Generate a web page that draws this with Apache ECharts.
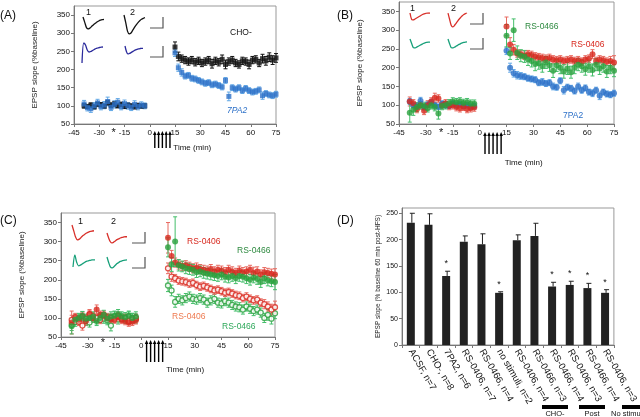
<!DOCTYPE html>
<html>
<head>
<meta charset="utf-8">
<script src="https://cdn.jsdelivr.net/npm/echarts@6/dist/echarts.min.js"></script>
<style>
  html, body { margin: 0; padding: 0; background: #fff; }
  #wrap { position: relative; width: 640px; height: 417px; }
  .layer { position: absolute; left: 0; top: 0; width: 640px; height: 417px; }
</style>
</head>
<body>
<div id="wrap">
  <div id="main" class="layer"></div>
  <div id="bars" class="layer"></div>
  <div id="over" class="layer"></div>
</div>
<script>
// time points (min) for the LTP panels: baseline then post-HFS
const tPts = [-39,-37,-35,-33,-31,-29,-27,-25,-23,-21,-19,-17,-15,-13,-11,-9,-7,-5,-3,
  15,17,19,21,23,25,27,29,31,33,35,37,39,41,43,45,47,49,51,53,55,57,59,61,63,65,67,69,71,73,75];

// (A) CHO- vs 7PA2
const aCho = [100,98,102,97,104,103,99,108,102,105,100,104,98,102,100,97,101,99,100,
  262,236,230,226,222,226,220,224,218,222,226,216,224,220,228,214,222,226,218,214,224,222,214,226,228,218,230,224,234,226,232];
const aChoErr = [6,5,6,5,6,6,5,7,6,6,5,6,5,6,5,5,6,5,5,
  14,12,10,10,10,10,10,10,10,10,10,12,10,10,12,12,10,10,10,10,10,10,12,10,10,10,12,12,12,12,12];
const a7pa2 = [105,95,92,100,108,98,102,112,96,104,110,98,106,100,96,104,98,102,100,
  246,205,192,182,184,176,174,170,166,162,164,158,160,156,152,170,126,150,146,150,142,148,142,138,140,144,128,134,130,128,132];
const a7pa2Err = [10,9,10,9,10,9,10,12,9,10,10,9,10,9,9,10,9,9,8,
  10,10,10,8,8,8,8,8,8,8,8,8,8,8,8,8,12,8,8,8,8,8,8,8,8,8,10,8,8,8,8];

// (B) 7PA2, RS-0406, RS-0466
const bBlue = [110,100,98,112,95,102,108,100,96,104,100,98,104,100,102,98,100,96,98,
  245,200,185,180,178,176,172,170,168,160,162,158,160,150,148,165,140,148,145,138,150,140,146,135,132,140,125,135,130,128,132];
const bBlueErr = [8,7,8,9,8,7,8,8,7,8,8,7,8,8,7,8,8,7,8,
  10,12,10,10,9,8,8,8,8,8,9,8,8,9,8,8,10,8,8,8,9,8,8,8,9,8,10,8,8,8,8];
const bRed = [110,105,90,100,85,100,110,120,118,100,105,98,100,95,92,96,90,92,94,
  310,262,248,238,236,232,236,234,230,228,226,224,226,222,220,222,218,220,222,218,220,216,222,224,236,218,222,220,216,218,214];
const bRedErr = [12,10,10,10,10,12,10,12,10,10,10,10,10,10,10,10,10,10,10,
  25,18,14,10,10,10,10,10,10,10,10,10,10,10,10,10,10,10,10,10,10,10,10,10,12,10,10,10,10,12,18];
const bGreen = [80,88,95,100,98,92,100,95,78,98,100,105,110,108,110,106,108,104,104,
  285,238,300,240,232,230,222,218,210,212,204,214,206,192,206,200,190,198,188,200,208,204,196,204,194,208,198,204,190,200,192];
const bGreenErr = [25,15,12,10,10,10,10,10,15,10,10,10,10,10,10,10,10,10,10,
  30,16,30,18,16,16,16,16,18,16,16,16,16,18,16,16,18,16,16,16,16,16,16,16,16,16,16,16,16,16,16];

// (C) RS-0406 / RS-0466, filled and open
const cRed = [88,100,95,105,92,110,100,122,108,105,100,95,98,102,95,92,88,90,94,
  310,262,245,240,236,238,234,230,232,228,226,224,228,222,226,224,220,226,222,218,224,220,222,226,218,222,214,220,218,216,214];
const cRedErr = [30,10,10,10,10,12,10,12,10,10,10,10,10,10,10,10,10,10,10,
  40,15,12,12,12,12,12,12,12,12,12,12,12,12,12,12,12,12,12,12,12,12,12,12,15,12,12,12,12,12,15];
const cGreen = [78,95,100,105,98,100,104,92,100,108,98,104,106,110,104,102,106,100,104,
  285,240,300,238,235,230,228,226,220,222,218,216,214,212,210,214,208,206,210,204,210,208,204,200,206,202,194,204,198,196,194];
const cGreenErr = [20,12,12,12,12,12,12,12,12,12,12,12,12,12,12,12,12,12,12,
  25,18,65,15,14,14,14,14,14,14,14,14,14,14,14,14,14,14,14,14,14,14,14,14,14,14,14,14,14,14,20];
const cRedOpen = [95,102,90,80,98,110,104,100,95,108,102,100,96,105,98,100,92,96,100,
  230,208,204,198,196,194,190,192,186,182,184,180,176,172,174,170,166,168,164,160,158,152,156,150,146,148,140,136,130,122,128];
const cRedOpenErr = [12,10,10,12,10,10,10,10,10,10,10,10,10,10,10,10,10,10,10,
  14,12,10,10,10,10,10,10,10,10,10,10,10,10,10,10,10,10,10,10,10,10,10,10,10,10,10,12,12,14,16];
const cGreenOpen = [82,90,98,104,92,88,100,96,102,98,94,80,104,96,100,98,104,100,98,
  185,172,142,150,146,152,156,150,148,152,148,140,146,150,140,138,144,140,134,130,128,122,130,124,118,122,114,100,108,98,112];
const cGreenOpenErr = [15,12,12,12,12,12,12,12,12,12,12,14,12,12,12,12,12,12,12,
  16,14,14,12,12,12,12,12,12,12,12,12,12,12,12,12,12,12,12,12,12,12,12,12,12,12,12,12,14,14,14];

// HFS trains (min) and drug marker time
const stimTimes = [3, 5.25, 7.5, 9.75, 12];
const drugTime = -21.5;

// example EPSP traces (insets)
const wA1 = [0.9,0.1,-0.7,-0.9,-0.75,-0.5,-0.25,-0.05,0.15,0.3,0.42,0.5,0.55];
const wA2 = [1.0,0.2,-0.7,-1.0,-0.9,-0.6,-0.3,-0.05,0.2,0.4,0.55,0.65,0.72];
const wA3 = [-1.6,0.4,0.2,-0.3,-0.5,-0.45,-0.35,-0.25,-0.15,-0.1,-0.05,-0.02,0.0];
const wA4 = [0.3,-0.3,-0.55,-0.5,-0.4,-0.3,-0.2,-0.12,-0.05,0,0.03,0.05,0.05];
const wB1 = [0.3,-0.35,-0.4,-0.3,-0.2,-0.1,0,0.1,0.18,0.24,0.28,0.3,0.3];
const wB2 = [0.7,0.0,-0.7,-0.9,-0.75,-0.5,-0.25,0.0,0.2,0.4,0.55,0.65,0.72];
const wB3 = [0.5,0.0,-0.45,-0.5,-0.4,-0.3,-0.2,-0.1,0.0,0.08,0.12,0.15,0.16];
const wB4 = [0.45,-0.05,-0.45,-0.5,-0.42,-0.32,-0.22,-0.12,-0.03,0.05,0.1,0.13,0.15];
const wC1 = [0.8,0.1,-0.6,-0.9,-0.8,-0.6,-0.4,-0.25,-0.1,0.0,0.08,0.12,0.15];
const wC2 = [0.4,-0.2,-0.65,-0.8,-0.7,-0.55,-0.4,-0.3,-0.2,-0.12,-0.08,-0.05,-0.05];
const wC3 = [-0.6,0.4,-0.2,-0.5,-0.45,-0.35,-0.25,-0.15,-0.1,-0.05,-0.02,0,0];
const wC4 = [0.3,-0.2,-0.6,-0.7,-0.6,-0.45,-0.3,-0.2,-0.1,-0.05,0,0.02,0.03];

// (D) summary bars
const dCats = ['ACSF, n=7','CHO-, n=8','7PA2, n=6','RS-0406, n=7','RS-0466, n=4','no stimuli, n=2',
  'RS-0406, n=4','RS-0466, n=3','RS-0466, n=4','RS-0406, n=3','RS-0466, n=4','RS-0406, n=3'];
const dVals = [232,228,131,196,191,99,199,207,111,114,108,99];
const dErr = [18,21,9,11,20,2,10,24,8,7,9,6];
const dSig = [0,0,1,0,0,1,0,0,1,1,1,1];

const FONT = '"Liberation Sans", Arial, sans-serif';
const BLUE = '#2c70c8', BLUE_ERR = '#62a8e6';
const RED = '#d8281e', RED_ERR = '#e86a60';
const GREEN = '#28a03c', GREEN_ERR = '#44be6a';
const AX = '#777';

const mainChart = echarts.init(document.getElementById('main'));
const barChart = echarts.init(document.getElementById('bars'));
const overChart = echarts.init(document.getElementById('over'));

// ---- panels A, B, C ----
const ltpGrids = [
  { left: 74, top: 6, width: 202, height: 118 },
  { left: 399, top: 2, width: 215, height: 122 },
  { left: 61, top: 213, width: 214, height: 124 }
];

function errRender(color) {
  return function (params, api) {
    const x = api.value(0);
    const lo = api.coord([x, api.value(1)]);
    const hi = api.coord([x, api.value(2)]);
    const c = 2;
    const style = { stroke: color, lineWidth: 1 };
    return {
      type: 'group', children: [
        { type: 'line', shape: { x1: lo[0], y1: lo[1], x2: hi[0], y2: hi[1] }, style },
        { type: 'line', shape: { x1: hi[0] - c, y1: hi[1], x2: hi[0] + c, y2: hi[1] }, style },
        { type: 'line', shape: { x1: lo[0] - c, y1: lo[1], x2: lo[0] + c, y2: lo[1] }, style }
      ]
    };
  };
}

function ltp(gi, vals, errs, o) {
  return [
    {
      type: 'custom', xAxisIndex: gi, yAxisIndex: gi, silent: true,
      data: tPts.map((t, i) => [t, vals[i] - errs[i], vals[i] + errs[i]]),
      encode: { x: 0, y: [1, 2] },
      renderItem: errRender(o.err)
    },
    {
      type: 'scatter', xAxisIndex: gi, yAxisIndex: gi, silent: true,
      data: tPts.map((t, i) => [t, vals[i]]),
      symbol: o.symbol, symbolSize: o.size,
      itemStyle: { color: o.fill, borderColor: o.stroke || o.fill, borderWidth: o.bw || 0 }
    }
  ];
}

mainChart.setOption({
  animation: false,
  backgroundColor: '#fff',
  textStyle: { fontFamily: FONT },
  grid: ltpGrids.map(g => Object.assign({ show: true, borderColor: '#999', borderWidth: 1 }, g)),
  xAxis: [0, 1, 2].map(i => ({
    type: 'value', gridIndex: i, min: -45, max: 75, interval: 15,
    axisLine: { show: true, onZero: false, lineStyle: { color: AX } },
    axisTick: { show: true, length: 3, lineStyle: { color: AX } },
    axisLabel: { margin: 5, fontSize: 8, color: '#111', fontFamily: FONT },
    splitLine: { show: false }, minorTick: { show: false }, minorSplitLine: { show: false }
  })),
  yAxis: [0, 1, 2].map(i => ({
    type: 'value', gridIndex: i, min: 50, max: 375, interval: 50,
    name: 'EPSP slope (%baseline)', nameLocation: 'middle', nameGap: 35,
    nameTextStyle: { fontSize: 8, color: '#222', fontFamily: FONT },
    axisLine: { show: true, onZero: false, lineStyle: { color: AX } },
    axisTick: { show: true, length: 3, lineStyle: { color: AX } },
    axisLabel: { margin: 4, showMaxLabel: false, fontSize: 8, color: '#111', fontFamily: FONT },
    splitLine: { show: false }, minorTick: { show: false }, minorSplitLine: { show: false }
  })),
  series: [].concat(
    ltp(0, aCho, aChoErr, { err: '#111', fill: '#111', symbol: 'rect', size: 5 }),
    ltp(0, a7pa2, a7pa2Err, { err: BLUE_ERR, fill: BLUE, symbol: 'rect', size: 5 }),
    ltp(1, bBlue, bBlueErr, { err: BLUE_ERR, fill: BLUE, symbol: 'circle', size: 6 }),
    ltp(1, bRed, bRedErr, { err: RED_ERR, fill: RED, symbol: 'circle', size: 6 }),
    ltp(1, bGreen, bGreenErr, { err: GREEN_ERR, fill: GREEN, symbol: 'circle', size: 6 }),
    ltp(2, cGreenOpen, cGreenOpenErr, { err: GREEN_ERR, fill: '#fff', stroke: GREEN, bw: 1.3, symbol: 'circle', size: 5 }),
    ltp(2, cRedOpen, cRedOpenErr, { err: RED_ERR, fill: '#fff', stroke: RED, bw: 1.3, symbol: 'circle', size: 5 }),
    ltp(2, cRed, cRedErr, { err: RED_ERR, fill: RED, symbol: 'circle', size: 6 }),
    ltp(2, cGreen, cGreenErr, { err: GREEN_ERR, fill: GREEN, symbol: 'circle', size: 6 })
  )
});

// ---- panel D ----
barChart.setOption({
  animation: false,
  textStyle: { fontFamily: FONT },
  grid: { left: 402, top: 208, width: 220, height: 137, show: true, borderColor: '#999', borderWidth: 1 },
  xAxis: {
    type: 'category', data: dCats,
    axisLine: { show: true, onZero: false, lineStyle: { color: AX } },
    axisTick: { show: true, length: 3, lineStyle: { color: AX } },
    axisLabel: { interval: 0, rotate: -60, fontSize: 9.5, color: '#111', fontFamily: FONT, margin: 5 },
    splitLine: { show: false }
  },
  yAxis: {
    type: 'value', min: 0, max: 260, interval: 50,
    name: 'EPSP slope (% baseline 60 min post-HFS)', nameLocation: 'middle', nameGap: 20,
    nameTextStyle: { fontSize: 6.5, color: '#222', fontFamily: FONT },
    axisLine: { show: true, onZero: false, lineStyle: { color: AX } },
    axisTick: { show: true, length: 3, lineStyle: { color: AX } },
    axisLabel: { margin: 4, showMaxLabel: false, fontSize: 7, color: '#111', fontFamily: FONT },
    splitLine: { show: false }
  },
  series: [
    { type: 'bar', data: dVals, barWidth: 8, silent: true, itemStyle: { color: '#222' } },
    {
      type: 'custom', silent: true, z: 3,
      data: dVals.map((v, i) => [i, v, v + dErr[i], dSig[i]]),
      encode: { x: 0, y: [1, 2] },
      renderItem: function (params, api) {
        const i = api.value(0);
        const lo = api.coord([i, api.value(1)]);
        const hi = api.coord([i, api.value(2)]);
        const style = { stroke: '#222', lineWidth: 1 };
        const kids = [
          { type: 'line', shape: { x1: lo[0] + 1, y1: lo[1], x2: hi[0] + 1, y2: hi[1] }, style },
          { type: 'line', shape: { x1: hi[0] - 1, y1: hi[1], x2: hi[0] + 4, y2: hi[1] }, style }
        ];
        if (api.value(3)) {
          kids.push({
            type: 'text',
            style: { text: '*', x: hi[0], y: hi[1] - 3, textAlign: 'center', align: 'center',
              textVerticalAlign: 'bottom', verticalAlign: 'bottom', fontSize: 9, fontFamily: FONT, fill: '#111' }
          });
        }
        return { type: 'group', children: kids };
      }
    }
  ]
});

// ---- inset traces and annotations ----
const insets = [
  { wave: wA1, box: [83, 17, 21, 12], color: '#111' },
  { wave: wA2, box: [124, 15, 21, 19], color: '#111' },
  { wave: wA3, box: [82, 43, 21, 20], color: '#2a2a9c' },
  { wave: wA4, box: [125, 46, 18, 8], color: '#2a2a9c' },
  { wave: wB1, box: [410, 13, 20, 7], color: '#d8302a' },
  { wave: wB2, box: [448, 13, 19, 14], color: '#d8302a' },
  { wave: wB3, box: [410, 39, 20, 9], color: '#18a07a' },
  { wave: wB4, box: [448, 39, 19, 9], color: '#18a07a' },
  { wave: wC1, box: [72, 225, 22, 15], color: '#d8302a' },
  { wave: wC2, box: [107, 233, 20, 10], color: '#d8302a' },
  { wave: wC3, box: [73, 255, 22, 12], color: '#18a07a' },
  { wave: wC4, box: [107, 257, 20, 11], color: '#18a07a' }
];

function txt(x, y, s, size, color, opts) {
  return {
    type: 'text', silent: true, z: 100,
    style: Object.assign({ x, y, text: s, fontSize: size, fontFamily: FONT, fill: color,
      textAlign: 'left', align: 'left', textVerticalAlign: 'middle', verticalAlign: 'middle' }, opts || {})
  };
}
function scaleBar(x, y) {
  return { type: 'polyline', silent: true, z: 100,
    shape: { points: [[x, y + 11], [x + 13, y + 11], [x + 13, y]] },
    style: { stroke: '#555', lineWidth: 1.2, fill: null } };
}

const g = [];
g.push(txt(0, 16, '(A)', 12, '#111'));
g.push(txt(337, 16, '(B)', 12, '#111'));
g.push(txt(0, 221, '(C)', 12, '#111'));
g.push(txt(337, 221, '(D)', 12, '#111'));

g.push(txt(86, 13, '1', 9, '#111'), txt(130, 13, '2', 9, '#111'));
g.push(scaleBar(150, 17), scaleBar(150, 46));
g.push(txt(410, 9, '1', 9, '#111'), txt(451, 9, '2', 9, '#111'));
g.push(scaleBar(470, 13), scaleBar(470, 38));
g.push(txt(78, 222, '1', 9, '#111'), txt(111, 222, '2', 9, '#111'));
g.push(scaleBar(132, 232), scaleBar(132, 257));

g.push(txt(230, 33, 'CHO-', 8.5, '#111'));
g.push(txt(227, 111, '7PA2', 8.5, BLUE, { fontStyle: 'italic' }));
g.push(txt(525, 27, 'RS-0466', 8.5, '#2e8a40'));
g.push(txt(571, 45, 'RS-0406', 8.5, RED));
g.push(txt(563, 116, '7PA2', 8.5, BLUE));
g.push(txt(187, 242, 'RS-0406', 8.5, RED));
g.push(txt(237, 251, 'RS-0466', 8.5, '#2e8a40'));
g.push(txt(172, 317, 'RS-0406', 8.5, '#ee7a50'));
g.push(txt(222, 327, 'RS-0466', 8.5, '#2ea85a'));

const arrowSpan = [[7, 24], [8, 30], [3, 25]];
const timeLblOff = [24, 39, 33];
const starOff = [9, 9, 6];
[0, 1, 2].forEach(gi => {
  stimTimes.forEach(t => {
    const p = mainChart.convertToPixel({ gridIndex: gi }, [t, 50]);
    const yTop = p[1] + arrowSpan[gi][0], yBot = p[1] + arrowSpan[gi][1];
    g.push({ type: 'line', silent: true, z: 100, shape: { x1: p[0], y1: yTop + 3, x2: p[0], y2: yBot },
      style: { stroke: '#000', lineWidth: 1.4 } });
    g.push({ type: 'polygon', silent: true, z: 100,
      shape: { points: [[p[0] - 1.8, yTop + 4], [p[0] + 1.8, yTop + 4], [p[0], yTop]] },
      style: { fill: '#000' } });
  });
  const s = mainChart.convertToPixel({ gridIndex: gi }, [drugTime, 50]);
  g.push(txt(s[0], s[1] + starOff[gi], '*', 11, '#111', { textAlign: 'center', align: 'center' }));
  const tl = mainChart.convertToPixel({ gridIndex: gi }, [14, 50]);
  g.push(txt(tl[0], tl[1] + timeLblOff[gi], 'Time (min)', 8, '#111'));
});

g.push({ type: 'rect', silent: true, z: 100, shape: { x: 542, y: 405, width: 26, height: 4 }, style: { fill: '#000' } });
g.push({ type: 'rect', silent: true, z: 100, shape: { x: 579, y: 405, width: 26, height: 4 }, style: { fill: '#000' } });
g.push({ type: 'rect', silent: true, z: 100, shape: { x: 622, y: 405, width: 20, height: 4 }, style: { fill: '#000' } });
g.push(txt(555, 414, 'CHO-', 7.5, '#111', { textAlign: 'center', align: 'center' }));
g.push(txt(592, 414, 'Post', 7.5, '#111', { textAlign: 'center', align: 'center' }));
g.push(txt(611, 414, 'No stimuli', 7.5, '#111'));

overChart.setOption({
  animation: false,
  grid: insets.map(it => ({ left: it.box[0], top: it.box[1], width: it.box[2], height: it.box[3] })),
  xAxis: insets.map((it, k) => ({ type: 'value', gridIndex: k, min: 0, max: it.wave.length - 1, show: false })),
  yAxis: insets.map((it, k) => ({ type: 'value', gridIndex: k, min: 'dataMin', max: 'dataMax', show: false })),
  series: insets.map((it, k) => ({
    type: 'line', xAxisIndex: k, yAxisIndex: k, silent: true,
    data: it.wave.map((v, i) => [i, v]), smooth: 0.3, showSymbol: false,
    lineStyle: { color: it.color, width: 1.3 }
  })),
  graphic: { elements: g }
});
</script>
</body>
</html>
